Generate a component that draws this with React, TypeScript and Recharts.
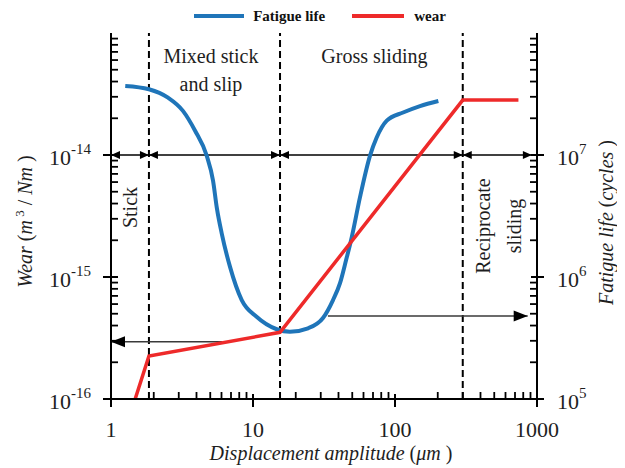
import React from 'react'
import {
  ComposedChart,
  Legend,
  Line,
  ReferenceArea,
  ReferenceLine,
  XAxis,
  YAxis,
} from 'recharts'

const SERIF = '"Liberation Serif", "Times New Roman", serif'
const INK = '#1e1e1e'
const BLUE = '#1f75b9'
const RED = '#ee2a2a'

// fatigue life (cycles) against displacement amplitude (µm)
const lifeAmplitude = [
  1.26, 1.85, 2.52, 3.21, 3.91, 4.72, 5.23, 5.57, 6.02, 6.89, 8.33, 10.6, 14.7, 18.2,
  24.4, 31.1, 36.6, 41.0, 45.2, 49.6, 56.7, 66.7, 74.3, 87.5, 114, 150, 202,
]
const lifeCycles = [
  3.68e7, 3.46e7, 2.95e7, 2.3e7, 1.58e7, 9.87e6, 6.17e6, 3.65e6, 2.28e6, 1.21e6, 6.47e5,
  4.72e5, 3.73e5, 3.56e5, 3.8e5, 4.61e5, 6.47e5, 8.9e5, 1.37e6, 2.12e6, 4.51e6, 9.87e6,
  1.39e7, 1.91e7, 2.23e7, 2.52e7, 2.77e7,
]

// wear rate (m³/Nm) against displacement amplitude (µm)
const wearAmplitude = [1.48, 1.85, 15.5, 300, 740]
const wearRate = [1e-16, 2.25e-16, 3.52e-16, 2.82e-14, 2.82e-14]

// regime boundaries and the double arrows that span each regime
const regimeBounds = [1.85, 15.5, 300]
const regimeArrowEnds = [1, 1.85, 15.5, 300, 920]
const regimeArrowWear = 1e-14

// pointers from each curve to its axis
const wearPointer = { from: 6.05, to: 1, value: 2.95e-16 }
const lifePointer = { from: 33.7, to: 860, value: 4.8e5 }

const ampMajorTicks = [1, 10, 100, 1000]
const ampTickLabels = ['1', '10', '100', '1000']
const wearMajorTicks = [1e-16, 1e-15, 1e-14]
const wearExponents = ['-16', '-15', '-14']
const lifeMajorTicks = [1e5, 1e6, 1e7]
const lifeExponents = ['5', '6', '7']

// the 2..9 minors inside each decade
function minorsOf(loExp: number, hiExp: number) {
  const out: number[] = []
  for (let e = loExp; e < hiExp; e++) {
    for (let m = 2; m <= 9; m++) out.push(m * Math.pow(10, e))
  }
  return out
}

const ampMinors = minorsOf(0, 3)
const wearMinors = minorsOf(-16, -13)
const lifeMinors = minorsOf(5, 8)

const lifeData = lifeAmplitude.map((x, i) => ({ x, life: lifeCycles[i] }))
const wearData = wearAmplitude.map((x, i) => ({ x, wear: wearRate[i] }))

function majorIndex(v: number, majors: number[]) {
  return majors.findIndex((m) => Math.abs(Math.log10(v) - Math.log10(m)) < 1e-6)
}

const MINOR = 7

function AmpTick(p: any) {
  const { x, y } = p
  const i = majorIndex(p.payload.value, ampMajorTicks)
  return (
    <g>
      <line x1={x} x2={x} y1={y - 5} y2={y + 8} stroke="#000" strokeWidth={2} />
      <text x={x} y={y + 38} textAnchor="middle" fontFamily={SERIF} fontSize={22} fill={INK}>
        {ampTickLabels[i]}
      </text>
    </g>
  )
}

function WearTick(p: any) {
  const { x, y } = p
  const i = majorIndex(p.payload.value, wearMajorTicks)
  return (
    <g>
      <line x1={x - 8} x2={x + 7} y1={y} y2={y} stroke="#000" strokeWidth={2} />
      <text x={x - 20} y={y + 10} textAnchor="end" fontFamily={SERIF} fontSize={22} fill={INK}>
        <tspan>10</tspan>
        <tspan dy={-11} fontSize={15}>
          {wearExponents[i]}
        </tspan>
      </text>
    </g>
  )
}

function LifeTick(p: any) {
  const { x, y } = p
  const i = majorIndex(p.payload.value, lifeMajorTicks)
  return (
    <g>
      <line x1={x - 6} x2={x + 7} y1={y} y2={y} stroke="#000" strokeWidth={2} />
      <text x={x + 20} y={y + 10} textAnchor="start" fontFamily={SERIF} fontSize={22} fill={INK}>
        <tspan>10</tspan>
        <tspan dy={-11} fontSize={15}>
          {lifeExponents[i]}
        </tspan>
      </text>
    </g>
  )
}

// short inward stubs for minor ticks, cut from a full-length reference line
const bottomStub = (p: any) => {
  const yb = Math.max(p.y1, p.y2)
  return <line x1={p.x1} x2={p.x1} y1={yb} y2={yb - MINOR} stroke="#000" strokeWidth={1.8} />
}
const leftStub = (p: any) => {
  const xl = Math.min(p.x1, p.x2)
  return <line x1={xl} x2={xl + MINOR} y1={p.y1} y2={p.y1} stroke="#000" strokeWidth={1.8} />
}
const rightStub = (p: any) => {
  const xr = Math.max(p.x1, p.x2)
  return <line x1={xr} x2={xr - MINOR} y1={p.y1} y2={p.y1} stroke="#000" strokeWidth={1.8} />
}

// line with filled triangular heads at the end (and optionally the start)
function arrowShape(head: number, half: number, both: boolean, color: string, width: number) {
  return (p: any) => {
    const { x1, y1, x2, y2 } = p
    const len = Math.hypot(x2 - x1, y2 - y1) || 1
    const ux = (x2 - x1) / len
    const uy = (y2 - y1) / len
    const tri = (tx: number, ty: number, dx: number, dy: number) => {
      const bx = tx - dx * head
      const by = ty - dy * head
      return `${tx},${ty} ${bx - dy * half},${by + dx * half} ${bx + dy * half},${by - dx * half}`
    }
    return (
      <g>
        <line x1={x1} y1={y1} x2={x2} y2={y2} stroke={color} strokeWidth={width} />
        <polygon points={tri(x2, y2, ux, uy)} fill="#000" />
        {both && <polygon points={tri(x1, y1, -ux, -uy)} fill="#000" />}
      </g>
    )
  }
}

const regimeArrow = arrowShape(9, 4, true, '#000', 1.3)
const pointerArrow = arrowShape(14, 5.5, false, '#3a3a3a', 1.5)

const regionText = {
  fontFamily: SERIF,
  fontSize: 20,
  fill: INK,
}

function LegendContent() {
  const item = { display: 'flex', alignItems: 'center', height: 16 }
  const swatch = (c: string, w: number) => (
    <span style={{ display: 'inline-block', width: w, height: 4, background: c }} />
  )
  return (
    <div
      style={{
        height: 25,
        boxSizing: 'border-box',
        display: 'flex',
        justifyContent: 'center',
        alignItems: 'flex-start',
        paddingLeft: 7,
        fontFamily: SERIF,
        fontWeight: 'bold',
        fontSize: 15,
        color: '#111',
      }}
    >
      <div style={item}>
        {swatch(BLUE, 50)}
        <span style={{ marginLeft: 9 }}>Fatigue life</span>
      </div>
      <div style={{ ...item, marginLeft: 27 }}>
        {swatch(RED, 52)}
        <span style={{ marginLeft: 10 }}>wear</span>
      </div>
    </div>
  )
}

export default function App() {
  return (
    <div style={{ fontFamily: SERIF }}>
      <ComposedChart width={617} height={460} margin={{ top: 0, right: 0, bottom: 0, left: 0 }}>
        <Legend verticalAlign="top" align="center" content={() => <LegendContent />} />
        <XAxis
          dataKey="x"
          type="number"
          scale="log"
          domain={[1, 1000]}
          allowDataOverflow
          ticks={ampMajorTicks}
          interval={0}
          tickSize={0}
          tickMargin={0}
          tickLine={false}
          tick={<AmpTick />}
          height={69}
          axisLine={{ stroke: '#000', strokeWidth: 2 }}
          label={(props: any) => {
            const vb = props.viewBox
            return (
              <text
                x={vb.x + vb.width / 2 + 7}
                y={vb.y + 61}
                textAnchor="middle"
                fontFamily={SERIF}
                fontSize={20}
                fill={INK}
              >
                <tspan fontStyle="italic">Displacement amplitude</tspan>
                <tspan> (</tspan>
                <tspan fontStyle="italic">μm</tspan>
                <tspan> )</tspan>
              </text>
            )
          }}
        />
        <XAxis
          xAxisId="top"
          orientation="top"
          type="number"
          scale="log"
          domain={[1, 1000]}
          allowDataOverflow
          height={0}
          tick={false}
          tickLine={false}
          axisLine={{ stroke: '#000', strokeWidth: 2 }}
        />
        <YAxis
          yAxisId="wear"
          orientation="left"
          type="number"
          scale="log"
          domain={[1e-16, 1e-13]}
          allowDataOverflow
          ticks={wearMajorTicks}
          interval={0}
          tickSize={0}
          tickMargin={0}
          tickLine={false}
          tick={<WearTick />}
          width={103}
          axisLine={{ stroke: '#000', strokeWidth: 2 }}
          label={(props: any) => {
            const vb = props.viewBox
            const x = vb.x + 24
            const y = 213.5
            return (
              <text
                x={x}
                y={y}
                transform={`rotate(-90, ${x}, ${y})`}
                textAnchor="middle"
                fontFamily={SERIF}
                fontSize={20}
                fill={INK}
              >
                <tspan fontStyle="italic">Wear</tspan>
                <tspan> (</tspan>
                <tspan fontStyle="italic">m</tspan>
                <tspan dy={-8} fontSize={13}>
                  {' 3'}
                </tspan>
                <tspan dy={8}> / </tspan>
                <tspan fontStyle="italic">Nm</tspan>
                <tspan> )</tspan>
              </text>
            )
          }}
        />
        <YAxis
          yAxisId="life"
          orientation="right"
          type="number"
          scale="log"
          domain={[1e5, 1e8]}
          allowDataOverflow
          ticks={lifeMajorTicks}
          interval={0}
          tickSize={0}
          tickMargin={0}
          tickLine={false}
          tick={<LifeTick />}
          width={88}
          axisLine={{ stroke: '#000', strokeWidth: 2 }}
          label={(props: any) => {
            const vb = props.viewBox
            const x = vb.x + 76
            const y = 214.5
            return (
              <text
                x={x}
                y={y}
                transform={`rotate(-90, ${x}, ${y})`}
                textAnchor="middle"
                fontFamily={SERIF}
                fontSize={20}
                fill={INK}
              >
                <tspan fontStyle="italic">Fatigue life</tspan>
                <tspan> (</tspan>
                <tspan fontStyle="italic">cycles</tspan>
                <tspan> )</tspan>
              </text>
            )
          }}
        />

        {/* minor ticks */}
        {ampMinors.map((v) => (
          <ReferenceLine key={`ax${v}`} yAxisId="wear" x={v} shape={bottomStub} />
        ))}
        {wearMinors.map((v) => (
          <ReferenceLine key={`wy${v}`} yAxisId="wear" y={v} shape={leftStub} />
        ))}
        {lifeMinors.map((v) => (
          <ReferenceLine key={`ly${v}`} yAxisId="life" y={v} shape={rightStub} />
        ))}

        {/* regime labels */}
        <ReferenceArea
          yAxisId="wear"
          x1={1}
          x2={regimeBounds[0]}
          fill="none"
          stroke="none"
          label={(props: any) => {
            const vb = props.viewBox
            const x = vb.x + 26
            const y = vb.y + 174.5
            return (
              <text x={x} y={y} transform={`rotate(-90, ${x}, ${y})`} textAnchor="middle" {...regionText}>
                Stick
              </text>
            )
          }}
        />
        <ReferenceArea
          yAxisId="wear"
          x1={regimeBounds[0]}
          x2={regimeBounds[1]}
          fill="none"
          stroke="none"
          label={(props: any) => {
            const vb = props.viewBox
            const cx = vb.x + vb.width / 2 - 3.5
            return (
              <text textAnchor="middle" {...regionText}>
                <tspan x={cx} y={vb.y + 30}>
                  Mixed stick
                </tspan>
                <tspan x={cx} y={vb.y + 58}>
                  and slip
                </tspan>
              </text>
            )
          }}
        />
        <ReferenceArea
          yAxisId="wear"
          x1={regimeBounds[1]}
          x2={regimeBounds[2]}
          fill="none"
          stroke="none"
          label={(props: any) => {
            const vb = props.viewBox
            return (
              <text x={vb.x + vb.width / 2 + 3} y={vb.y + 30} textAnchor="middle" {...regionText}>
                Gross sliding
              </text>
            )
          }}
        />
        <ReferenceArea
          yAxisId="wear"
          x1={regimeBounds[2]}
          x2={1000}
          fill="none"
          stroke="none"
          label={(props: any) => {
            const vb = props.viewBox
            const y = vb.y + 193
            const xa = vb.x + 27
            const xb = vb.x + 58
            return (
              <g>
                <text x={xa} y={y} transform={`rotate(-90, ${xa}, ${y})`} textAnchor="middle" {...regionText}>
                  Reciprocate
                </text>
                <text x={xb} y={y} transform={`rotate(-90, ${xb}, ${y})`} textAnchor="middle" {...regionText}>
                  sliding
                </text>
              </g>
            )
          }}
        />

        {regimeBounds.map((b) => (
          <ReferenceLine
            key={b}
            yAxisId="wear"
            x={b}
            stroke="#000"
            strokeWidth={2}
            strokeDasharray="7 4"
          />
        ))}

        {regimeArrowEnds.slice(0, -1).map((a, i) => (
          <ReferenceLine
            key={`r${i}`}
            yAxisId="wear"
            segment={[
              { x: a, y: regimeArrowWear },
              { x: regimeArrowEnds[i + 1], y: regimeArrowWear },
            ]}
            shape={regimeArrow}
          />
        ))}

        <ReferenceLine
          yAxisId="wear"
          segment={[
            { x: wearPointer.from, y: wearPointer.value },
            { x: wearPointer.to, y: wearPointer.value },
          ]}
          shape={pointerArrow}
        />
        <ReferenceLine
          yAxisId="life"
          segment={[
            { x: lifePointer.from, y: lifePointer.value },
            { x: lifePointer.to, y: lifePointer.value },
          ]}
          shape={pointerArrow}
        />

        <Line
          data={lifeData}
          dataKey="life"
          yAxisId="life"
          type="monotone"
          stroke={BLUE}
          strokeWidth={4}
          dot={false}
          activeDot={false}
          isAnimationActive={false}
        />
        <Line
          data={wearData}
          dataKey="wear"
          yAxisId="wear"
          type="linear"
          stroke={RED}
          strokeWidth={3.5}
          dot={false}
          activeDot={false}
          isAnimationActive={false}
        />
      </ComposedChart>
    </div>
  )
}
